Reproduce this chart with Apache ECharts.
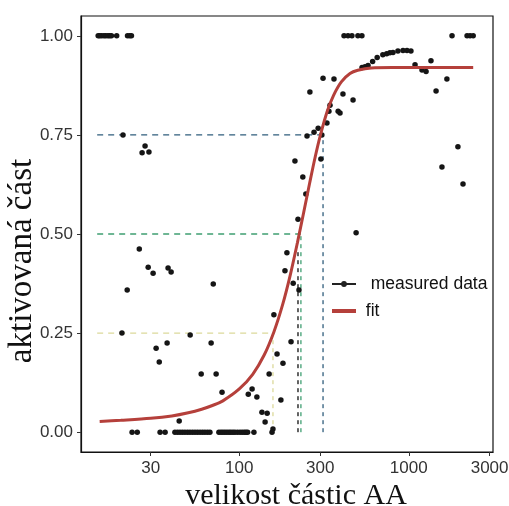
<!DOCTYPE html>
<html>
<head>
<meta charset="utf-8">
<script src="https://cdn.jsdelivr.net/npm/echarts@6/dist/echarts.min.js"></script>
<style>html,body{margin:0;padding:0;background:#fff}#c{width:509px;height:506px}</style>
</head>
<body>
<div id="c"></div>
<script>
// ---- data (particle size, activated fraction) ----
const measuredX = [
  14.7, 15.0, 15.4, 15.9, 16.3, 16.8, 17.2, 17.6, 18.9, 21.9, 22.6, 23.1,
  20.6, 27.8, 26.7, 29.3,
  25.7, 21.8, 29.0, 31.0, 38.0, 39.6, 70.2,
  20.3, 51.3, 32.3, 37.5, 33.7, 68.2, 59.6, 73.0, 79.1,
  119, 113, 127, 136, 146, 142, 158, 44.2, 176, 150, 181, 167, 202, 160,
  225, 208, 186, 191, 222, 489, 247, 237, 213, 303, 251, 276, 292, 307,
  329, 338, 343, 383, 393, 261, 312, 362, 409, 469,
  530, 552, 575, 612, 651, 703, 741, 774, 807, 863, 925, 976, 1030,
  1089, 1197, 1265, 1352, 1449, 1679, 1570, 1950, 2090,
  415, 438, 462, 501, 529, 1800, 2208, 2300, 2400,
  23.3, 25.0, 34.1, 36.5, 41.7, 43.2, 44.7, 46.2, 47.8, 49.5, 51.2, 53.0,
  54.8, 56.7, 58.7, 60.7, 62.7, 64.9, 67.1, 75.8, 78.0, 80.1, 82.3, 84.6,
  87.0, 89.3, 91.8, 94.3, 97.6, 101, 104, 107, 109.5, 112, 122, 156
];
const measuredY = [
  1, 1, 1, 1, 1, 1, 1, 1, 1, 1, 1, 1,
  0.75, 0.722, 0.705, 0.707,
  0.462, 0.359, 0.416, 0.401, 0.414, 0.404, 0.374,
  0.25, 0.245, 0.212, 0.225, 0.177, 0.225, 0.147, 0.147, 0.101,
  0.109, 0.096, 0.089, 0.05, 0.048, 0.026, 0.008, 0.028, 0.081, 0.147, 0.174, 0.197, 0.228, 0.296,
  0.359, 0.376, 0.407, 0.453, 0.537, 0.503, 0.601, 0.644, 0.684, 0.689, 0.747, 0.757, 0.767, 0.75,
  0.78, 0.81, 0.825, 0.81, 0.805, 0.858, 0.893, 0.891, 0.853, 0.838,
  0.92, 0.922, 0.925, 0.935, 0.945, 0.952, 0.955, 0.957, 0.958, 0.962, 0.963, 0.963, 0.962,
  0.927, 0.914, 0.91, 0.937, 0.861, 0.891, 0.669, 0.72, 0.626,
  1, 1, 1, 1, 1, 1, 1, 1, 1,
  0, 0, 0, 0, 0, 0, 0, 0, 0, 0, 0, 0,
  0, 0, 0, 0, 0, 0, 0, 0, 0, 0, 0, 0,
  0, 0, 0, 0, 0, 0, 0, 0, 0, 0, 0, 0
];
const fitX = [15, 20, 30, 40, 50, 60, 70, 80, 100, 120, 140, 160, 180, 200, 220, 240, 260, 280, 300, 330, 360, 400, 450, 500, 600, 800, 1200, 2400];
const fitY = [0.027, 0.030, 0.035, 0.041, 0.049, 0.058, 0.068, 0.079, 0.109, 0.146, 0.194, 0.253, 0.321, 0.397, 0.477, 0.555, 0.628, 0.693, 0.747, 0.809, 0.850, 0.884, 0.905, 0.913, 0.919, 0.920, 0.920, 0.920];
const levelY = [0.25, 0.5, 0.75];
const levelX = [158, 231, 312];
const levelColors = ['#dcd99a', '#3f9f72', '#2f5d7c'];
const levelStartX = 14.5;
const medianX = 222;
const medianTop = 0.46;
const xTicks = [30, 100, 300, 1000, 3000];
const yTicks = [0, 0.25, 0.5, 0.75, 1];
const xRange = [11.64, 3141];
const yRange = [-0.05, 1.05];
const xTitle = 'velikost částic AA';
const yTitle = 'aktivovaná část';

const L = Math.log10;
const series = [];
levelY.forEach((lv, i) => {
  series.push({
    type: 'line', silent: true, symbol: 'none', z: 1,
    data: [[L(levelStartX), lv], [L(levelX[i]), lv]],
    lineStyle: { color: levelColors[i], width: 1.3, type: [6, 5] }
  });
  series.push({
    type: 'line', silent: true, symbol: 'none', z: 1,
    data: [[L(levelX[i]), 0], [L(levelX[i]), lv]],
    lineStyle: { color: levelColors[i], width: 1.3, type: [4, 4] }
  });
});
series.push({
  type: 'line', silent: true, symbol: 'none', z: 1,
  data: [[L(medianX), 0], [L(medianX), medianTop]],
  lineStyle: { color: '#111', width: 1.3, type: [4, 4] }
});
series.push({
  name: 'measured data', type: 'scatter', z: 3,
  symbolSize: 5.5,
  itemStyle: { color: '#151515', opacity: 1 },
  data: measuredX.map((x, i) => [L(x), measuredY[i]])
});
series.push({
  name: 'fit', type: 'line', z: 4, symbol: 'none', smooth: 0.3,
  lineStyle: { color: '#b5403b', width: 3 },
  itemStyle: { color: '#b5403b' },
  data: fitX.map((x, i) => [L(x), fitY[i]])
});

const chart = echarts.init(document.getElementById('c'), null, { renderer: 'canvas' });
chart.setOption({
  animation: false,
  backgroundColor: '#fff',
  grid: { left: 81, right: 16, top: 16, bottom: 54, show: true, borderColor: '#111', borderWidth: 1.2,
    containLabel: false, outerBoundsMode: 'none' },
  legend: {
    orient: 'vertical', left: 327, top: 270, itemGap: 9,
    itemWidth: 24, itemHeight: 8,
    textStyle: { fontFamily: 'Liberation Sans', fontSize: 17.5, color: '#111' },
    formatter: n => n === 'measured data' ? '  ' + n : ' ' + n,
    data: [
      { name: 'measured data', icon: 'path://M0,3h24v2.2h-24z M12,1.2a2.9,2.9 0 1,1 -0.01,0z', itemStyle: { color: '#222' } },
      { name: 'fit', icon: 'path://M0,0h24v4h-24z', itemStyle: { color: '#b5403b' } }
    ]
  },
  graphic: [
    { type: 'text', x: 296, y: 496, silent: true,
      style: { text: xTitle, fontFamily: 'Liberation Serif', fontSize: 30, fill: '#111', align: 'center', verticalAlign: 'middle' } },
    { type: 'text', x: 22, y: 261, rotation: Math.PI / 2, silent: true,
      style: { text: yTitle, fontFamily: 'Liberation Serif', fontSize: 33, fill: '#111', align: 'center', verticalAlign: 'middle' } }
  ],
  xAxis: {
    type: 'value', min: L(xRange[0]), max: L(xRange[1]),
    axisLine: { show: true, onZero: false, lineStyle: { color: '#111', width: 1.2 } },
    axisTick: { show: true, length: 4, customValues: xTicks.map(L), lineStyle: { color: '#333' } },
    axisLabel: { customValues: xTicks.map(L), margin: 8, fontFamily: 'Liberation Sans', fontSize: 17, color: '#333',
      formatter: v => String(Math.round(Math.pow(10, v))) },
    splitLine: { show: false }
  },
  yAxis: {
    type: 'value', min: yRange[0], max: yRange[1],
    axisLine: { show: true, onZero: false, lineStyle: { color: '#111', width: 1.2 } },
    axisTick: { show: true, length: 4, customValues: yTicks, lineStyle: { color: '#333' } },
    axisLabel: { customValues: yTicks, margin: 8, fontFamily: 'Liberation Sans', fontSize: 17, color: '#333',
      formatter: v => v.toFixed(2) },
    splitLine: { show: false }
  },
  series: series
});
</script>
</body>
</html>
